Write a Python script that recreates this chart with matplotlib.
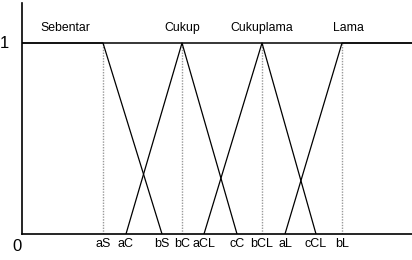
import matplotlib
matplotlib.use("Agg")
import matplotlib.pyplot as plt

plt.rcParams['font.family'] = ['Liberation Sans Narrow', 'Liberation Sans', 'DejaVu Sans']

# membership function break points (x in chart units)
aS, bS = 81, 140
aC, bC, cC = 104, 160, 215
aCL, bCL, cCL = 182, 240, 294
aL, bL = 263, 320
xMax = 390

setNames = ['Sebentar', 'Cukup', 'Cukuplama', 'Lama']
setPeaks = [43, bC, bCL, 326]
tickNames = ['aS', 'aC', 'bS', 'bC', 'aCL', 'cC', 'bCL', 'aL', 'cCL', 'bL']
tickVals = [aS, aC, bS, bC, aCL, cC, bCL, aL, cCL, bL]
dottedAt = [aS, bC, bCL, bL]

fig = plt.figure(figsize=(4.12, 2.6), dpi=100)
ax = fig.add_axes([22/412, 26/260, 390/412, 231/260])
ax.set_xlim(0, xMax)
ax.set_ylim(0, 231/191)

ax.plot([0, xMax], [1, 1], color='black', lw=1.1)
for x in dottedAt:
    ax.plot([x, x], [0, 1], color='#999999', lw=1, ls=(0, (1, 1)))

ax.plot([0, aS, bS], [1, 1, 0], color='black', lw=0.9)
ax.plot([aC, bC, cC], [0, 1, 0], color='black', lw=0.9)
ax.plot([aCL, bCL, cCL], [0, 1, 0], color='black', lw=0.9)
ax.plot([aL, bL, xMax], [0, 1, 1], color='black', lw=0.9)

for name, x in zip(setNames, setPeaks):
    ax.text(x, 1.08, name, ha='center', va='center', fontsize=8.8)

ax.set_xticks(tickVals)
ax.set_xticklabels(tickNames, fontsize=9)
ax.tick_params(axis='x', length=0, pad=3)
ax.set_yticks([])
ax.text(-22, 1, '1', ha='left', va='center', fontsize=12)
ax.text(-5, -0.065, '0', ha='center', va='center', fontsize=12, clip_on=False)

for s in ['top', 'right']:
    ax.spines[s].set_visible(False)
for s in ['left', 'bottom']:
    ax.spines[s].set_linewidth(1.2)

fig.savefig('out.png', dpi=100)
